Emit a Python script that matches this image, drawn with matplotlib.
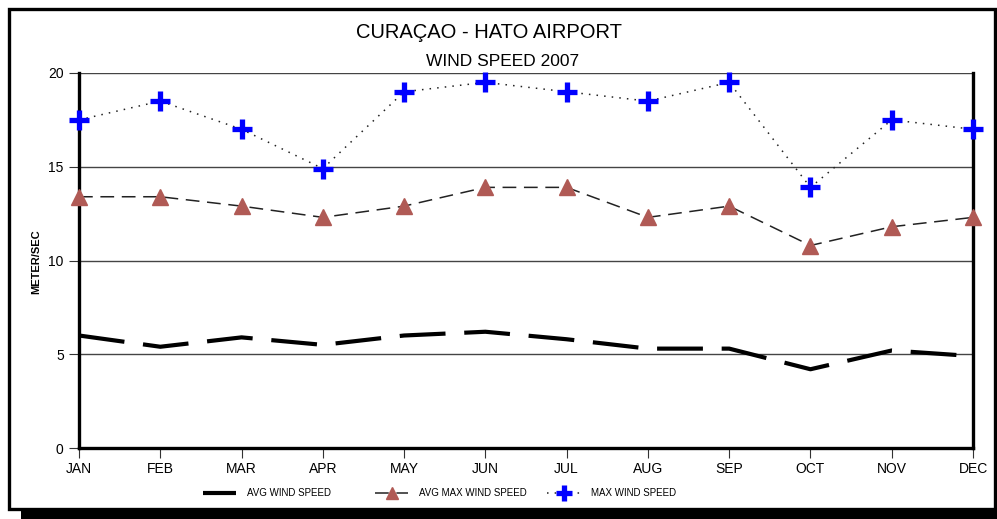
import matplotlib
matplotlib.use("Agg")
import matplotlib.pyplot as plt
from matplotlib.patches import Rectangle

plt.rcParams['font.family'] = ['Liberation Sans', 'DejaVu Sans']

months = ['JAN', 'FEB', 'MAR', 'APR', 'MAY', 'JUN',
          'JUL', 'AUG', 'SEP', 'OCT', 'NOV', 'DEC']
avg_speed = [6.0, 5.4, 5.9, 5.5, 6.0, 6.2, 5.8, 5.3, 5.3, 4.2, 5.2, 4.9]
avg_max_speed = [13.4, 13.4, 12.9, 12.3, 12.9, 13.9, 13.9, 12.3, 12.9, 10.8, 11.8, 12.3]
max_speed = [17.5, 18.5, 17.0, 14.9, 19.0, 19.5, 19.0, 18.5, 19.5, 13.9, 17.5, 17.0]
y_ticks = [0, 5, 10, 15, 20]

W, H = 997, 519
fig = plt.figure(figsize=(W / 100, H / 100), dpi=100)

# frame with drop shadow (behind the axes)
fig.patches.append(Rectangle((21 / W, 0), 1 - 21 / W, 10 / H, transform=fig.transFigure,
                             facecolor='black', edgecolor='none', zorder=-2))
fig.patches.append(Rectangle((8.5 / W, 1 - 508.5 / H), 986 / W, 500 / H,
                             transform=fig.transFigure, facecolor='white',
                             edgecolor='black', linewidth=2.4, zorder=-1))

ax = fig.add_axes([79 / W, 1 - 448 / H, (973 - 79) / W, (448 - 73) / H])
ax.set_facecolor('none')
x = list(range(len(months)))

l1, = ax.plot(x, avg_speed, color='black', lw=3, dashes=(11, 4.5),
              label='AVG WIND SPEED', zorder=3)
l2, = ax.plot(x, avg_max_speed, color='#222222', lw=1.1, dashes=(9, 5),
              marker='^', ms=11, mfc='#b05a55', mec='#b05a55',
              label='AVG MAX WIND SPEED', zorder=4, clip_on=False)
l3, = ax.plot(x, max_speed, color='#222222', lw=1.1, linestyle=(0, (1, 4)),
              marker='+', ms=15, mew=3.8, mec='#0000ff',
              label='MAX WIND SPEED', zorder=5, clip_on=False)

ax.set_xlim(0, 11)
ax.set_ylim(0, 20)
ax.set_xticks(x)
ax.set_xticklabels(months, fontsize=10)
ax.set_yticks(y_ticks)
ax.set_yticklabels([str(v) for v in y_ticks], fontsize=10)
ax.tick_params(axis='both', length=7, width=0.8, color='#333333', pad=4)
ax.tick_params(axis='x', pad=3)

ax.yaxis.grid(True, color='#444444', lw=1)
ax.set_axisbelow(True)
for s in ['left', 'bottom', 'right']:
    ax.spines[s].set_linewidth(2.4)
ax.spines['top'].set_visible(False)

fig.text(489 / W, 1 - 32 / H, 'CURAÇAO - HATO AIRPORT', fontsize=14.5,
         ha='center', va='center')
fig.text(503 / W, 1 - 62 / H, 'WIND SPEED 2007', fontsize=12.5,
         ha='center', va='center')
fig.text(36 / W, 1 - 262 / H, 'METER/SEC', fontsize=8, fontweight='bold',
         rotation=90, ha='center', va='center')

# one legend per entry, evenly spaced like the original
for line, x0 in [(l1, 203), (l2, 375), (l3, 547)]:
    fig.legend(handles=[line], loc='center left',
               bbox_to_anchor=(x0 / W, 1 - 493 / H), frameon=False,
               fontsize=7, handlelength=3.4, handletextpad=1.1,
               borderpad=0, borderaxespad=0, markerscale=0.8)

fig.savefig('out.png', dpi=100)
